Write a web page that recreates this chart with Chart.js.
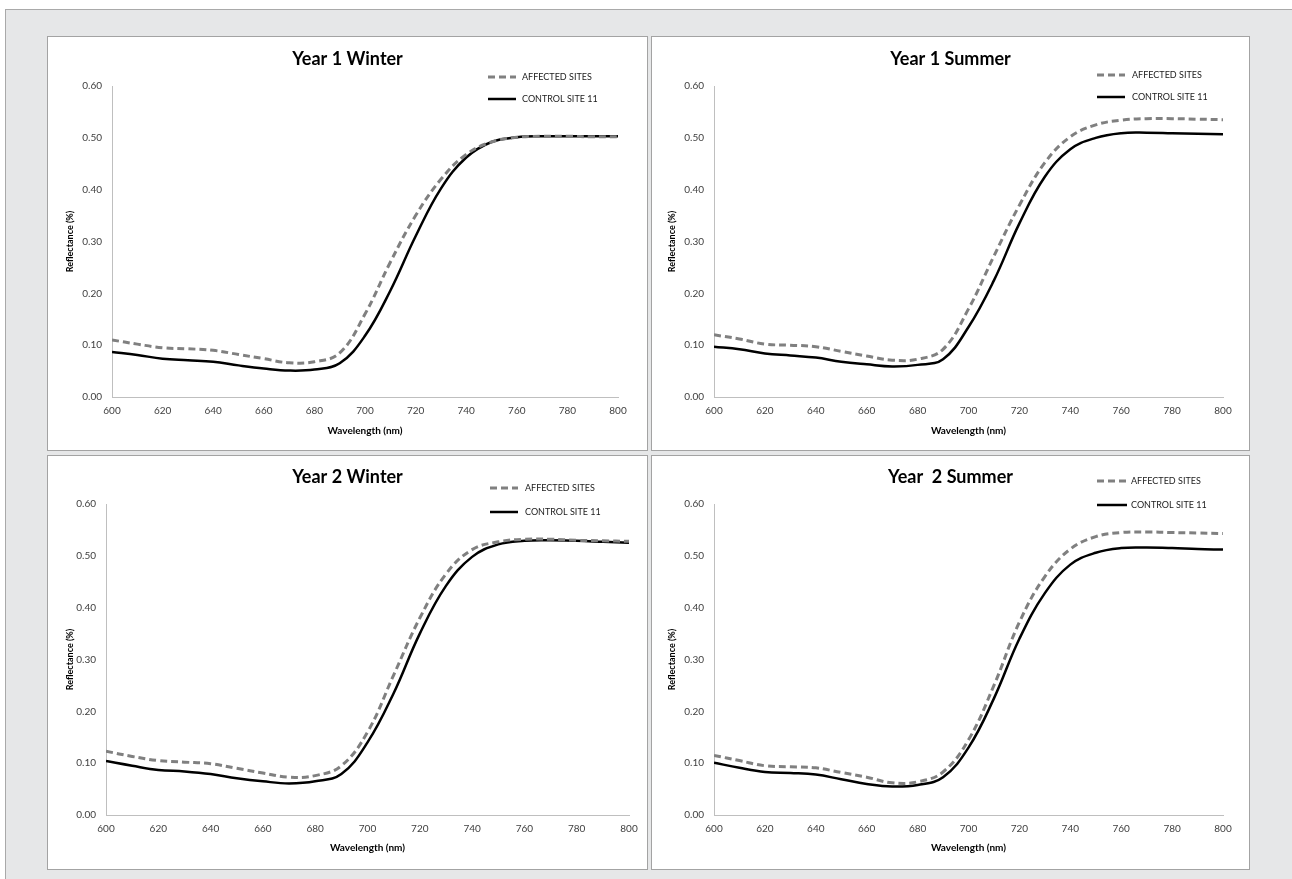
<!DOCTYPE html>
<html><head><meta charset="utf-8">
<script src="https://cdn.jsdelivr.net/npm/chart.js@4/dist/chart.umd.min.js"></script>
<style>
html,body{margin:0;padding:0;background:#fff;width:1292px;height:879px;overflow:hidden;}
#frame{position:absolute;left:5px;top:9px;width:1287px;height:870px;background:#e6e7e8;border-left:1px solid #a9a9a9;border-top:1px solid #a9a9a9;box-sizing:border-box;}
.panel{position:absolute;background:#fff;border:1px solid #a3a3a3;box-sizing:border-box;}
canvas{display:block}
</style></head><body>
<div id="frame"></div>
<script>
// ---- data ----
const wavelengths = [600,610,620,630,640,650,660,670,680,690,700,710,720,730,740,750,760,770,780,790,800];
const seriesLabels = ['AFFECTED SITES','CONTROL SITE 11'];
const panelTitles = ['Year 1 Winter','Year 1 Summer','Year 2 Winter','Year  2 Summer'];

const y1WinterAffected = [0.110,0.102,0.095,0.093,0.090,0.082,0.074,0.066,0.068,0.085,0.160,0.260,0.350,0.420,0.468,0.492,0.501,0.503,0.503,0.502,0.502];
const y1WinterControl  = [0.087,0.081,0.074,0.071,0.068,0.061,0.055,0.051,0.053,0.065,0.118,0.205,0.310,0.402,0.462,0.492,0.501,0.503,0.503,0.503,0.503];

const y1SummerAffected = [0.120,0.112,0.102,0.100,0.097,0.088,0.079,0.071,0.073,0.092,0.170,0.272,0.370,0.452,0.502,0.525,0.534,0.537,0.537,0.536,0.535];
const y1SummerControl  = [0.097,0.092,0.084,0.080,0.076,0.068,0.063,0.059,0.062,0.073,0.135,0.225,0.335,0.425,0.478,0.500,0.509,0.510,0.509,0.508,0.507];

const y2WinterAffected = [0.123,0.113,0.105,0.102,0.099,0.090,0.081,0.073,0.076,0.095,0.160,0.270,0.380,0.465,0.512,0.527,0.532,0.532,0.530,0.529,0.528];
const y2WinterControl  = [0.104,0.095,0.087,0.084,0.079,0.071,0.065,0.061,0.065,0.079,0.140,0.235,0.350,0.442,0.498,0.522,0.529,0.530,0.529,0.527,0.525];

const y2SummerAffected = [0.115,0.105,0.095,0.093,0.091,0.082,0.073,0.062,0.064,0.083,0.145,0.250,0.372,0.460,0.513,0.537,0.545,0.546,0.545,0.544,0.543];
const y2SummerControl  = [0.101,0.091,0.083,0.081,0.078,0.069,0.060,0.055,0.058,0.073,0.130,0.225,0.340,0.428,0.483,0.506,0.515,0.516,0.515,0.513,0.512];

const panelSeries = [
  [y1WinterAffected, y1WinterControl],
  [y1SummerAffected, y1SummerControl],
  [y2WinterAffected, y2WinterControl],
  [y2SummerAffected, y2SummerControl]
];

// ---- layout (page pixels) ----
const FONT = 'Lato, "Open Sans", sans-serif';
const panels = [
  {x:47, y:36, w:601, h:415, left:64, right:29, top:49, xH:53, titleY:22, yTitlePad:17, xTitlePad:13, lx1:440, lx2:468, ly1:40, ly2:62, tx:474},
  {x:651,y:36, w:599, h:415, left:62, right:26, top:49, xH:53, titleY:22, yTitlePad:15, xTitlePad:13, lx1:445, lx2:473, ly1:38, ly2:60, tx:480},
  {x:47, y:455,w:601, h:415, left:58, right:18, top:48, xH:54, titleY:21, yTitlePad:17, xTitlePad:15, lx1:442, lx2:470, ly1:32, ly2:56, tx:477},
  {x:651,y:455,w:599, h:415, left:62, right:26, top:48, xH:54, titleY:21, yTitlePad:15, xTitlePad:15, lx1:445, lx2:475, ly1:25, ly2:49, tx:479}
];

const decor = {
  id:'decor',
  afterDraw(chart, args, o){
    const ctx = chart.ctx;
    ctx.save();
    ctx.fillStyle = '#000';
    ctx.font = 'bold 18px ' + FONT;
    ctx.textAlign = 'center';
    ctx.textBaseline = 'middle';
    ctx.fillText(o.title, chart.width/2, o.titleY);
    const ys = [o.ly1, o.ly2];
    chart.data.datasets.forEach((ds,i)=>{
      ctx.beginPath();
      ctx.setLineDash(ds.borderDash || []);
      ctx.strokeStyle = ds.borderColor;
      ctx.lineWidth = ds.borderWidth;
      ctx.moveTo(o.lx1, ys[i]); ctx.lineTo(o.lx2, ys[i]);
      ctx.stroke();
      ctx.setLineDash([]);
      ctx.fillStyle = '#1a1a1a';
      ctx.font = '9px ' + FONT;
      ctx.textAlign = 'left';
      ctx.fillText(ds.label, o.tx, ys[i]);
    });
    ctx.restore();
  }
};

panels.forEach((P, idx)=>{
  const div = document.createElement('div');
  div.className = 'panel';
  Object.assign(div.style, {left:P.x+'px', top:P.y+'px', width:P.w+'px', height:P.h+'px'});
  const cv = document.createElement('canvas');
  const W = P.w-2, H = P.h-2;
  cv.width = W; cv.height = H;
  cv.style.width = W+'px'; cv.style.height = H+'px';
  div.appendChild(cv);
  document.body.appendChild(div);
  const [aff, ctl] = panelSeries[idx];
  new Chart(cv.getContext('2d'), {
    type:'line',
    data:{datasets:[
      {label:seriesLabels[0], data:wavelengths.map((w,i)=>({x:w,y:aff[i]})), borderColor:'#808080', borderWidth:3, borderDash:[7,4], pointRadius:0, tension:0.4, fill:false},
      {label:seriesLabels[1], data:wavelengths.map((w,i)=>({x:w,y:ctl[i]})), borderColor:'#000000', borderWidth:2.5, pointRadius:0, tension:0.4, fill:false}
    ]},
    options:{
      responsive:false, animation:false, devicePixelRatio:1,
      layout:{padding:{left:0, right:P.right, top:P.top, bottom:0}},
      plugins:{legend:{display:false}, title:{display:false}, tooltip:{enabled:false},
        decor:{title:panelTitles[idx], titleY:P.titleY, lx1:P.lx1, lx2:P.lx2, ly1:P.ly1, ly2:P.ly2, tx:P.tx}},
      scales:{
        x:{type:'linear', min:600, max:800,
          ticks:{stepSize:20, padding:8, color:'#404040', font:{family:FONT, size:10}, maxRotation:0},
          grid:{display:false, drawTicks:false},
          border:{display:true, color:'#bfbfbf', width:1},
          title:{display:true, text:'Wavelength (nm)', color:'#000', font:{family:FONT, size:10, weight:'bold'}, padding:{top:0, bottom:P.xTitlePad}},
          afterFit(s){ s.height = P.xH; }
        },
        y:{type:'linear', min:0, max:0.6,
          ticks:{stepSize:0.1, padding:10, color:'#404040', font:{family:FONT, size:10}, callback:v=>v.toFixed(2)},
          grid:{display:false, drawTicks:false},
          border:{display:true, color:'#bfbfbf', width:1},
          title:{display:true, text:'Reflectance (%)', color:'#000', font:{family:FONT, size:9, weight:'bold'}, padding:{top:P.yTitlePad, bottom:0}},
          afterFit(s){ s.width = P.left; }
        }
      }
    },
    plugins:[decor]
  });
});
</script>
</body></html>
